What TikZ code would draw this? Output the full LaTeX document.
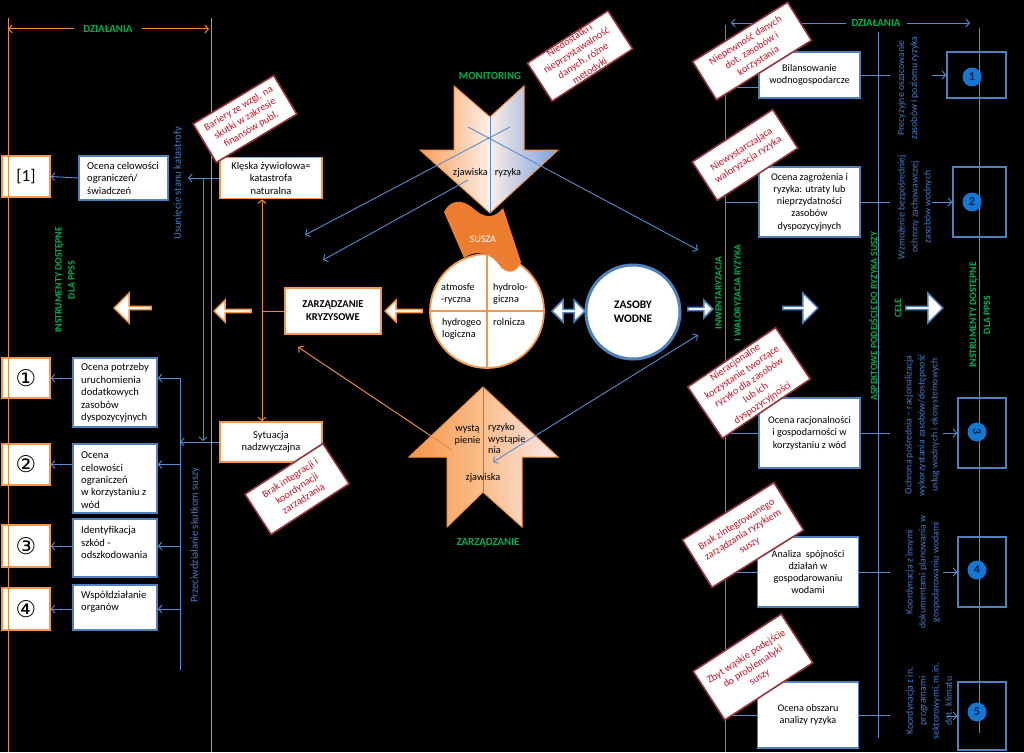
\documentclass[tikz,border=0pt]{standalone}
\usepackage{fontspec}
\setmainfont{Carlito}
\newfontfamily\dejavu{DejaVu Sans}
\usetikzlibrary{shapes.arrows,shapes.geometric,arrows.meta}
\definecolor{orC}{RGB}{247,150,70}
\definecolor{orL}{RGB}{233,140,60}
\definecolor{blC}{RGB}{79,129,189}
\definecolor{blL}{RGB}{90,140,210}
\definecolor{blT}{RGB}{70,125,200}
\definecolor{grT}{RGB}{0,176,80}
\definecolor{rdT}{RGB}{200,20,40}
\definecolor{rdB}{RGB}{150,50,60}
\definecolor{numC}{RGB}{20,120,210}
\definecolor{numT}{RGB}{0,30,80}
\definecolor{suszaC}{RGB}{237,125,49}
\begin{document}
\begin{tikzpicture}[x=1pt,y=-1pt,>={Straight Barb[length=3.5pt,width=8pt]},
  obox/.style={draw=orC,line width=1.6pt,fill=white,inner sep=0pt,align=center,font=\fontsize{10.5}{12.4}\selectfont},
  bbox/.style={draw=blC,line width=1.6pt,fill=white,inner sep=0pt},
  ltxt/.style={align=left,inner sep=0pt,anchor=west,font=\fontsize{10.6}{12.4}\selectfont},
  rbox/.style={draw=blC,line width=1.6pt,fill=white,inner sep=0pt,align=center,minimum width=101pt,font=\fontsize{10.2}{12.3}\selectfont},
  nbox/.style={draw=blC,line width=1.5pt,inner sep=0pt,minimum width=48pt,minimum height=70pt},
  callout/.style={draw=rdB,line width=1.6pt,fill=white,text=rdT,align=center,inner sep=0pt,font=\fontsize{10.3}{12.2}\selectfont},
  bl/.style={draw=blL,line width=0.9pt},
  ol/.style={draw=orL,line width=1pt},
  vtxt/.style={text=blT,rotate=90,align=center,inner sep=0pt,font=\fontsize{9.8}{13}\selectfont},
  gtxt/.style={text=grT,inner sep=0pt,align=center,font=\bfseries\fontsize{10.8}{13}\selectfont},
  gv/.style={text=grT,rotate=90,inner sep=0pt,align=center,font=\bfseries\fontsize{9.6}{13}\selectfont},
  numbox/.style={draw=orC,line width=1.6pt,fill=white,inner sep=0pt,minimum width=48pt,minimum height=41pt,font=\dejavu\fontsize{23}{23}\selectfont},
  warr/.style={single arrow,fill=white,line width=1.5pt,inner sep=0pt,single arrow head extend=6pt},
  numc/.style={circle,fill=numC,minimum size=19pt,inner sep=0pt,text=numT,font=\bfseries\fontsize{12}{12}\selectfont},
  qtxt/.style={anchor=west,align=left,inner sep=0pt,font=\fontsize{10.2}{11.8}\selectfont}
]
\fill[black] (0,0) rectangle (1024,752);
\useasboundingbox (0,0) rectangle (1024,752);

% ---------- left frame top arrow
\coordinate (dzl) at (8,29); \coordinate (dzr) at (209,29);
\draw[ol,<->] (dzl) -- (dzr);
\node[gtxt,fill=black,inner xsep=9pt] (dz1) at (108,29) {DZIAŁANIA};

% ---------- left connectors
\coordinate (pvt) at (180,378); \coordinate (pvb) at (180,670);
\draw[bl] (pvt) -- (pvb);
\coordinate (kt) at (188,178); \coordinate (kj) at (203,178); \coordinate (sj) at (203,441);
\coordinate (ov) at (262,311);

% ---------- left boxes
\node[numbox,font=\fontsize{17}{17}\selectfont] (n1) at (26,176.5) {[1]};
\node[bbox,minimum width=89pt,minimum height=44pt] (oc1) at (123.5,178) {};
\node[ltxt] (oc1t) at (87,178) {Ocena celowości\\ograniczeń/\\świadczeń};
\node[obox,minimum width=102pt,minimum height=41pt] (klk) at (271,178) {Klęska żywiołowa=\\katastrofa\\naturalna};
\node[obox,minimum width=102pt,minimum height=40pt] (syt) at (271,442) {Sytuacja\\nadzwyczajna};
\node[obox,minimum width=96pt,minimum height=46pt,font=\bfseries\fontsize{10.5}{13}\selectfont] (zk) at (333,311) {ZARZĄDZANIE\\KRYZYSOWE};

\node[numbox,minimum height=40pt] (c1) at (26,378) {①};
\node[numbox,minimum height=41pt] (c2) at (26,464.5) {②};
\node[numbox,minimum height=42pt] (c3) at (26,546) {③};
\node[numbox,minimum height=42pt] (c4) at (26,609) {④};

\node[bbox,minimum width=84pt,minimum height=69pt] (b1) at (115,392.5) {};
\node[ltxt] (b1t) at (81,393) {Ocena potrzeby\\uruchomienia\\dodatkowych\\zasobów\\dyspozycyjnych};
\node[bbox,minimum width=84pt,minimum height=69pt] (b2) at (115,478.5) {};
\node[ltxt] (b2t) at (81,480) {Ocena\\celowości\\ograniczeń\\w korzystaniu z\\wód};
\node[bbox,minimum width=84pt,minimum height=58pt] (b3) at (115,548) {};
\node[ltxt] (b3t) at (81,542.5) {Identyfikacja\\szkód -\\odszkodowania};
\node[bbox,minimum width=84pt,minimum height=45pt] (b4) at (115,607.5) {};
\node[ltxt] (b4t) at (81,602) {Współdziałanie\\organów};

\draw[bl,->] (oc1.west) -- (n1.east);
\draw[bl,->] (klk.west) -- (kt);
\draw[bl,->] (kj) -- (sj);
\draw[bl,->] (syt.west) -- (syt.west -| pvt);
\foreach \c/\b in {c1/b1,c2/b2,c3/b3,c4/b4}{
  \draw[bl,->] (\c.east -| pvt) -- (\c.east -| \b.east);
  \draw[bl,->] (\b.west |- \c.east) -- (\c.east);
}
\draw[ol,<->] (klk.south -| ov) -- (syt.north -| ov);
\draw[ol] (ov) -- (zk.west);

% left frame lines (over the number boxes)
\coordinate (lfa) at (8,18); \coordinate (lfb) at (8,752);
\coordinate (lfc) at (211,18); \coordinate (lfd) at (211,752);
\draw[ol] (lfa) -- (lfb);
\draw[ol] (lfc) -- (lfd);

\node[gv,font=\bfseries\fontsize{9.8}{13}\selectfont] (g1) at (65,280) {INSTRUMENTY DOSTĘPNE\\DLA PPSS};
\node[vtxt,font=\fontsize{10.6}{13}\selectfont] (u1) at (178,183) {Usunięcie stanu katastrofy};
\node[vtxt,font=\fontsize{10.6}{13}\selectfont] (u2) at (195,535) {Przeciwdziałanie skutkom suszy};

% ---------- block arrows
\node[warr,draw=orC,shape border rotate=180,minimum height=37pt,minimum width=30pt] (la1) at (133.5,308) {};
\node[warr,draw=orC,shape border rotate=180,minimum height=37pt,minimum width=22pt,single arrow head extend=4pt] (la2) at (233.5,311) {};
\node[warr,draw=orC,shape border rotate=180,minimum height=37pt,minimum width=22pt,single arrow head extend=4pt] (la3) at (404.5,311) {};
\node[double arrow,draw=blC,fill=white,line width=1.5pt,inner sep=0pt,double arrow head extend=4pt,minimum height=33pt,minimum width=22pt] (da) at (568.5,311) {};
\node[warr,draw=blC,minimum height=25pt,minimum width=18pt,single arrow head extend=3.5pt] (ra1) at (699.5,309) {};
\node[warr,draw=blC,minimum height=35pt,minimum width=30pt] (ra2) at (799.5,308) {};
\node[warr,draw=blC,minimum height=37pt,minimum width=30pt] (ra3) at (923.5,308) {};

% ---------- drought circle
\node[circle,draw=orC,line width=1.8pt,fill=white,minimum size=114pt,inner sep=0pt] (dc) at (487,311) {};
\draw[orC,line width=1.6pt] (dc.north) -- (dc.south) (dc.west) -- (dc.east);
\node[qtxt] (q1) at (441,294) {atmosfe\\-ryczna};
\node[qtxt] (q2) at (493,294) {hydrolo-\\giczna};
\node[qtxt] (q3) at (442,328.5) {hydrogeo\\logiczna};
\node[qtxt] (q4) at (493,322) {rolnicza};

\node[circle,draw=blC,line width=3pt,fill=white,minimum size=94pt,inner sep=0pt,align=center,font=\bfseries\fontsize{11.5}{14}\selectfont] (zw) at (633,312) {ZASOBY\\WODNE};

% SUSZA ribbon
\fill[suszaC] (444,212) .. controls (450,200) and (462,198) .. (474,209) .. controls (484,218) and (494,219) .. (503,208) -- (521,262) .. controls (517,273) and (507,275) .. (500,266) .. controls (492,254) and (478,248) .. (464,258) -- cycle;
\node[text=white,inner sep=0pt,font=\fontsize{10}{12}\selectfont] (susza) at (483,239) {SUSZA};

% MONITORING arrow
\path[draw=orC,line width=1pt,left color={rgb,255:red,247;green,158;blue,90},right color={rgb,255:red,120;green,160;blue,222},middle color={rgb,255:red,253;green,238;blue,230}] (454,86) -- (490,117) -- (524,86) -- (524,150) -- (558,150) -- (490,213) -- (420,150) -- (454,150) -- cycle;
\coordinate (mn) at (490,117); \coordinate (mt) at (490,213);
\draw[bl] (mn) -- (mt);
\node[inner sep=0pt,font=\fontsize{10.3}{12}\selectfont] (mz) at (470.5,173) {zjawiska};
\node[inner sep=0pt,font=\fontsize{10.3}{12}\selectfont] (mr) at (508,173) {ryzyka};
\node[gtxt] (mon) at (490,76) {MONITORING};

% ZARZADZANIE arrow
\path[draw=orC,line width=1pt,left color={rgb,255:red,247;green,150;blue,75},right color={rgb,255:red,250;green,232;blue,236},middle color={rgb,255:red,250;green,190;blue,140}] (483,387) -- (558,457) -- (522,457) -- (522,527) -- (483,492) -- (447,527) -- (447,457) -- (409,457) -- cycle;
\coordinate (zt) at (483,387); \coordinate (zn) at (483,492);
\draw[bl] (zt) -- (zn);
\node[inner sep=0pt,align=center,font=\fontsize{10.3}{11.6}\selectfont] (zw1) at (467.5,435) {wystą\\pienie};
\node[anchor=west,inner sep=0pt,align=left,font=\fontsize{10.3}{11.6}\selectfont] (zw2) at (488,438.5) {ryzyko\\wystąpie\\nia};
\node[inner sep=0pt,font=\fontsize{10.3}{12}\selectfont] (zw3) at (483,478) {zjawiska};
\node[gtxt] (zar) at (488,543) {ZARZĄDZANIE};

% diagonal connectors
\coordinate (m1) at (468,127); \coordinate (m2) at (510,127); \coordinate (m3) at (468,180);
\coordinate (t1) at (698,250); \coordinate (t2) at (305,235); \coordinate (t3) at (323,260);
\draw[bl,->] (m1) -- (t1);
\draw[bl,->] (m2) -- (t2);
\draw[bl,->] (m3) -- (t3);
\coordinate (z1) at (493,462); \coordinate (z2) at (698,335);
\draw[bl,<->] (z1) -- (z2);
\coordinate (z3) at (452,450); \coordinate (z4) at (298,347);
\draw[ol,->] (z3) -- (z4);

% ---------- right frame
\coordinate (rv1t) at (725,25); \coordinate (rv1b) at (725,752);
\coordinate (rv2t) at (878,32); \coordinate (rv2b) at (878,738);
\coordinate (rv3t) at (979,28); \coordinate (rv3b) at (979,733);
\draw[bl] (rv1t) -- (rv1b);
\draw[bl] (rv2t) -- (rv2b);
\draw[bl] (rv3t) -- (rv3b);
\coordinate (dl) at (731,23); \coordinate (dr) at (970,23);
\draw[bl,<->] (dl) -- (dr);
\node[gtxt,fill=black,inner xsep=6pt] (dz2) at (876,23) {DZIAŁANIA};

\node[rbox,minimum height=46pt] (rb1) at (809.5,75) {Bilansowanie\\wodnogospodarcze};
\node[rbox,minimum height=70pt] (rb2) at (809.5,202) {Ocena zagrożenia i\\ryzyka: utraty lub\\nieprzydatności\\zasobów\\dyspozycyjnych};
\node[rbox,minimum height=70pt] (rb3) at (809.5,433) {Ocena racjonalności\\i gospodarności w\\korzystaniu z wód};
\node[rbox,minimum height=70pt] (rb4) at (808,572) {Analiza~ spójności\\działań w\\gospodarowaniu\\wodami};
\node[rbox,minimum height=66pt] (rb5) at (808,715) {Ocena obszaru\\analizy ryzyka};

\node[nbox,minimum width=59pt,minimum height=46pt] (nb1) at (976.5,75) {};
\node[nbox,minimum width=53pt] (nb2) at (979.5,202) {};
\node[nbox] (nb3) at (982,433) {};
\node[nbox] (nb4) at (982,572) {};
\node[nbox,minimum height=68pt] (nb5) at (982,716) {};

\coordinate (a1) at (725,87);
\draw[bl] (a1) -- (a1 -| rb1.west);
\foreach \r in {rb2,rb3,rb4,rb5}{ \draw[bl] (\r.west -| rv1t) -- (\r.west); }
\coordinate (e1) at (890,0);
\foreach \r in {rb1,rb2,rb3,rb4,rb5}{ \draw[bl] (\r.east) -- (\r.east -| e1); }
\coordinate (s1) at (932,0); \coordinate (s2) at (943,0); \coordinate (s3) at (946,0);
\draw[bl,->] (nb1.west -| s1) -- (nb1.west);
\draw[bl,->] (nb2.west -| s1) -- (nb2.west);
\draw[bl,->] (nb3.west -| s2) -- (nb3.west);
\draw[bl,->] (nb4.west -| s2) -- (nb4.west);
\draw[bl,->] (nb5.west -| s3) -- (nb5.west);

\node[numc] (nc1) at (972,77) {1};
\node[numc] (nc2) at (972,202) {2};
\node[numc] (nc3) at (977,432) {\rotatebox{-90}{3}};
\node[numc] (nc4) at (977,570) {4};
\node[numc] (nc5) at (977,712) {5};

\node[vtxt] (vt1) at (908,88) {Precyzyjne oszacowanie\\zasobów i poziomu ryzyka};
\node[vtxt] (vt2) at (915,207) {Wzmożenie bezpośredniej\\ochrony zachowawczej\\zasobów wodnych};
\node[vtxt] (vt3) at (922,425) {Ochrona pośrednia – racjonalizacja\\wykorzystania zasobów/dostępność\\usług wodnych i ekosystemowych};
\node[vtxt] (vt4) at (923,572) {Koordynacja z innymi\\dokumentami planowania w\\gospodarowaniu wodami};
\node[vtxt] (vt5) at (929,701) {Koordynacja z in.\\programami\\sektorowymi, m.in.\\dot. klimatu};

\node[gv,font=\bfseries\fontsize{9.6}{19}\selectfont] (g2) at (728,293) {INWENTARYZACJA\\I WALORYZACJA RYZYKA};
\node[gv] (g3) at (873,316) {ASPEKTOWE PODEJŚCIE DO RYZYKA SUSZY};
\node[gv] (g4) at (898,308) {CELE};
\node[gv,font=\bfseries\fontsize{9.8}{14}\selectfont] (g5) at (980,315) {INSTRUMENTY DOSTĘPNE\\DLA PPSS};

% ---------- red callouts
\node[callout,rotate=32,minimum width=112pt,minimum height=45pt] (r1) at (752,51) {Niepewność danych\\dot. zasobów i\\korzystania};
\node[callout,rotate=33,minimum width=96pt,minimum height=46pt] (r2) at (745,155) {Niewystarczająca\\waloryzacja ryzyka};
\node[callout,rotate=34,minimum width=106pt,minimum height=62pt] (r3) at (749,383) {Nieracjonalne\\korzystanie tworzące\\ryzyko dla zasobów\\lub ich\\dyspozycyjności};
\node[callout,rotate=32,minimum width=108pt,minimum height=56pt] (r4) at (743,535) {Brak zintegrowanego\\zarządzania ryzykiem\\suszy};
\node[callout,rotate=33,minimum width=105pt,minimum height=58pt] (r5) at (753,667) {Zbyt wąskie podejście\\do problematyki\\suszy};
\node[callout,rotate=31,minimum width=94pt,minimum height=45pt] (r6) at (245,119) {Bariery ze wzgl. na\\skutki w zakresie\\finansów publ.};
\node[callout,rotate=33,minimum width=96pt,minimum height=45pt] (r7) at (580,56) {Niedostatki i\\nieprzystawalność\\danych, różne\\metodyki};
\node[callout,rotate=33,minimum width=93pt,minimum height=48pt] (r8) at (297,489) {Brak integracji i\\koordynacji\\zarządzania};
\end{tikzpicture}
\end{document}
